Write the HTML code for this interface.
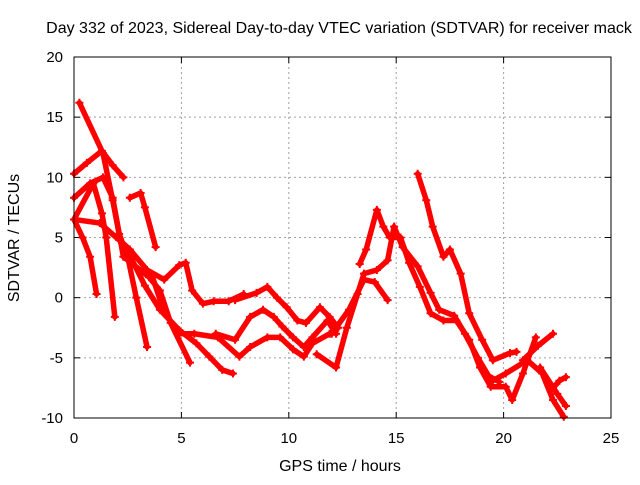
<!DOCTYPE html>
<html><head><meta charset="utf-8"><style>
body{margin:0;background:#fff;}
svg text{font-family:"Liberation Sans",sans-serif;font-size:15px;fill:#000;}
svg text.big{font-size:16px;}
</style></head><body>
<svg id="chart" width="640" height="480" viewBox="0 0 640 480" xmlns="http://www.w3.org/2000/svg">
<text class="big" x="339" y="33" text-anchor="middle">Day 332 of 2023, Sidereal Day-to-day VTEC variation (SDTVAR) for receiver mack</text>
<text class="big" x="340" y="471" text-anchor="middle">GPS time / hours</text>
<text class="big" x="19" y="238" text-anchor="middle" transform="rotate(-90 19 238)">SDTVAR / TECUs</text>
<g id="grid"></g><g id="ticks"></g><g id="marks"></g>
<rect x="74" y="57" width="537" height="361" fill="none" stroke="#000" stroke-width="1"/>
</svg>
<script>
const xTicks=[0,5,10,15,20,25];
const yTicks=[-10,-5,0,5,10,15,20];
const trackA=[[0.25,16.2],[1.35,12],[1.8,8.1],[2.1,5.3],[2.5,3.4],[2.9,0],[3.4,-4.1]];
const trackB=[[0,10.3],[0.6,11.2],[1.3,12.2],[1.8,11],[2.3,10]];
const trackC=[[0,8.3],[0.75,9.5],[1.35,10],[1.8,8.3],[2.3,3.4],[3.5,1.7],[4.0,0.6],[4.5,-2.1],[5.4,-5.4]];
const trackC2=[[2.6,8.3],[3.1,8.7],[3.3,7.5],[3.8,4.2]];
const trackD=[[0,6.5],[0.4,5],[0.75,3.4],[1.05,0.3]];
const trackE=[[0,6.5],[0.9,9.5],[1.3,7],[1.5,5],[1.9,-1.6]];
const trackF=[[0,6.5],[1.2,6.2],[2.1,4.8],[2.6,4],[3.4,2.3],[4.2,1.5],[4.9,2.7],[5.2,2.9],[5.5,0.6],[6.0,-0.5],[6.5,-0.3],[7.2,-0.3],[7.9,0.3]];
const trackG=[[2.6,3.5],[3.3,1],[4.0,-1],[4.9,-2.7],[5.7,-3.8],[6.3,-4.9],[6.9,-6],[7.4,-6.3]];
const trackH=[[3.6,2],[4.2,-1.2],[4.9,-3],[5.6,-3],[6.7,-3.3],[7.7,-4.9],[8.2,-4.1],[9,-3.3],[9.6,-3.3],[10.2,-4.3],[10.7,-4.9],[11.1,-3.8],[11.9,-3]];
const trackM1=[[7.5,-0.2],[8.5,0.4],[9.0,0.9],[9.45,0],[9.9,-0.8],[10.4,-1.9],[10.8,-2.1],[11.45,-0.8],[11.9,-1.6],[12.3,-2.5]];
const trackM2=[[6.6,-3],[7.5,-3.5],[8.2,-1.6],[8.8,-1],[9.3,-1.6],[9.7,-2.4],[10.2,-3.3],[10.7,-4.1],[11.1,-3.3],[11.8,-1.9],[12.2,-3]];
const trackR1=[[11.3,-4.7],[12.2,-5.8],[12.7,-2.5],[13.2,0.3],[13.5,2],[14.1,2.3],[14.6,3.1],[14.9,5.9],[15.3,4.2],[16.0,2.6],[16.6,0.4],[17.0,-1],[17.7,-1.5],[18.2,-3],[18.8,-5],[19.3,-6.5],[19.8,-7]];
const trackR2=[[13.3,2.8],[13.6,4],[14.1,7.3],[14.4,5.9],[14.7,5],[15.2,5],[15.6,2.9],[16.1,0.9],[16.6,-1.3],[17.2,-1.9],[17.8,-1.9],[18.4,-3.5],[18.9,-5.8],[19.4,-7.4],[20.1,-7.4],[20.4,-8.5],[20.9,-6.3],[21.5,-3.3]];
const trackR3=[[12.0,-3],[12.8,-1],[13.5,1.5],[14.0,1.3],[14.6,-0.2]];
const trackR4=[[16.0,10.3],[16.4,8.1],[16.7,5.9],[17.2,3.4],[17.5,4],[18.0,2],[18.4,-1.3],[19.0,-3.5],[19.5,-5.2],[20.3,-4.6],[20.6,-4.5]];
const trackR5=[[19.5,-6.9],[20.1,-6.3],[21.1,-5.2],[21.8,-6.3],[22.3,-8.5],[22.8,-9.9]];
const trackR6=[[20.9,-5.2],[21.6,-4],[22.3,-3.0]];
const trackR7=[[21.7,-5.8],[22.5,-8],[22.9,-9]];
const trackR8=[[22.3,-7.5],[22.6,-6.9],[22.9,-6.6]];
const tracks=[trackA,trackB,trackC,trackC2,trackD,trackE,trackF,trackG,trackH,trackM1,trackM2,trackR1,trackR2,trackR3,trackR4,trackR5,trackR6,trackR7,trackR8];
const X=t=>74+t*537/25, Y=v=>57+(20-v)*361/30;
const NS='http://www.w3.org/2000/svg';
const grid=document.getElementById('grid'),ticks=document.getElementById('ticks'),marks=document.getElementById('marks');
function mk(tag,attrs,parent){const e=document.createElementNS(NS,tag);for(const k in attrs)e.setAttribute(k,attrs[k]);parent.appendChild(e);return e;}
xTicks.forEach(t=>{
  if(t>0&&t<25){const g=mk('line',{x1:X(t),x2:X(t),y1:57,y2:418,stroke:'#a0a0a0','stroke-dasharray':'2,3'},grid);
  
  }
  mk('line',{x1:X(t),x2:X(t),y1:418,y2:412,stroke:'#000'},ticks);
  mk('line',{x1:X(t),x2:X(t),y1:57,y2:63,stroke:'#000'},ticks);
  const l=mk('text',{x:X(t),y:443,'text-anchor':'middle'},ticks);l.textContent=t;
  
  
});
yTicks.forEach(v=>{
  if(v>-10&&v<20){const g=mk('line',{x1:74,x2:611,y1:Y(v),y2:Y(v),stroke:'#a0a0a0','stroke-dasharray':'2,3'},grid);
  
  }
  mk('line',{x1:74,x2:80,y1:Y(v),y2:Y(v),stroke:'#000'},ticks);
  mk('line',{x1:605,x2:611,y1:Y(v),y2:Y(v),stroke:'#000'},ticks);
  const l=mk('text',{x:63,y:Y(v)+5,'text-anchor':'end'},ticks);l.textContent=v;
  
  
});
tracks.forEach((tr,i)=>{
  const p=mk('polyline',{points:tr.map(d=>X(d[0])+','+Y(d[1])).join(' '),fill:'none',stroke:'#ff0000','stroke-width':5.5,'stroke-linejoin':'round','stroke-linecap':'round'},marks);
  
  
  tr.forEach(d=>{
    const m=mk('path',{d:`M${X(d[0])-4},${Y(d[1])}h8M${X(d[0])},${Y(d[1])-4}v8`,stroke:'#ff0000','stroke-width':2},marks);
    
    
  });
});
</script>
</body></html>
